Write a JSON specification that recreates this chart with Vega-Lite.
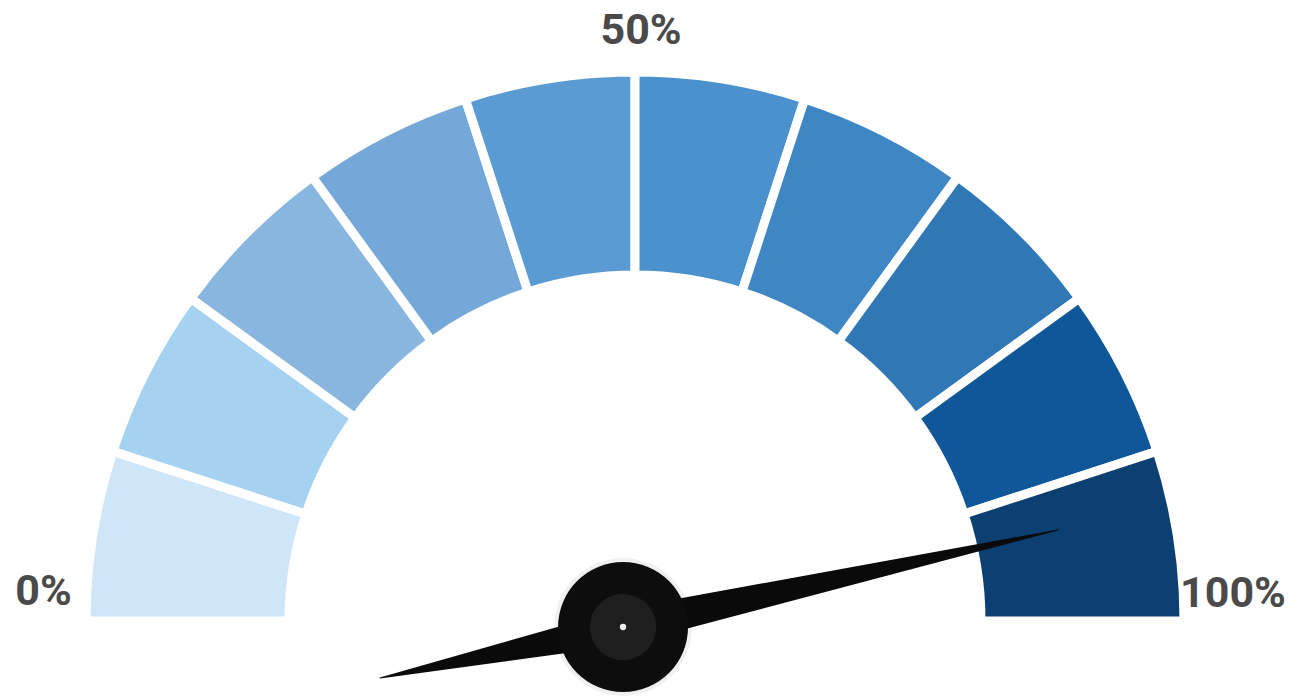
{
  "$schema": "https://vega.github.io/schema/vega-lite/v6.json",
  "width": 1308,
  "height": 696,
  "autosize": {"type": "none"},
  "padding": 0,
  "background": "white",
  "config": {"view": {"stroke": null}},
  "resolve": {"scale": {"color": "independent", "size": "independent"}},
  "layer": [
    {
      "data": {"values": [
        {"seg": 1, "t0": -1.5708, "t1": -1.2566},
        {"seg": 2, "t0": -1.2566, "t1": -0.9425},
        {"seg": 3, "t0": -0.9425, "t1": -0.6283},
        {"seg": 4, "t0": -0.6283, "t1": -0.3142},
        {"seg": 5, "t0": -0.3142, "t1": 0},
        {"seg": 6, "t0": 0, "t1": 0.3142},
        {"seg": 7, "t0": 0.3142, "t1": 0.6283},
        {"seg": 8, "t0": 0.6283, "t1": 0.9425},
        {"seg": 9, "t0": 0.9425, "t1": 1.2566},
        {"seg": 10, "t0": 1.2566, "t1": 1.5708}
      ]},
      "mark": {"type": "arc", "radius": 549, "radius2": 346, "stroke": "white", "strokeWidth": 9},
      "encoding": {
        "x": {"datum": 0, "type": "quantitative", "scale": {"domain": [-1.1609, 1.2303], "nice": false, "zero": false}, "axis": null},
        "y": {"datum": 0, "type": "quantitative", "scale": {"domain": [-0.1371, 1.1353], "nice": false, "zero": false}, "axis": null},
        "theta": {"field": "t0", "type": "quantitative", "scale": null},
        "theta2": {"field": "t1"},
        "color": {"field": "seg", "type": "ordinal", "legend": null,
          "scale": {"domain": [1,2,3,4,5,6,7,8,9,10], "range": ["#cfe6f8", "#a6d2f2", "#89b6de", "#74a8d8", "#5a9bd3", "#4a91cd", "#3e86c4", "#3077b5", "#0f5799", "#0c3f72"]}}
      }
    },
    {
      "data": {"values": [
        {"part": "shadow", "x": -0.0219, "y": -0.011}
      ]},
      "mark": {"type": "point", "filled": true, "shape": "circle", "size": 19000, "color": "#000000", "opacity": 0.06},
      "encoding": {
        "x": {"field": "x", "type": "quantitative"},
        "y": {"field": "y", "type": "quantitative"}
      }
    },
    {
      "data": {"values": [
        {"pt": 1, "part": "tail", "x": -0.4662, "y": -0.1042},
        {"pt": 2, "part": "hub", "x": -0.0219, "y": -0.011},
        {"pt": 3, "part": "tip", "x": 0.7733, "y": 0.1664}
      ]},
      "mark": {"type": "trail", "color": "#0a0a0a"},
      "encoding": {
        "x": {"field": "x", "type": "quantitative"},
        "y": {"field": "y", "type": "quantitative"},
        "order": {"field": "pt"},
        "size": {"field": "part", "type": "nominal", "legend": null, "scale": {"type": "ordinal", "domain": ["tail", "hub", "tip"], "range": [1, 36, 1]}}
      }
    },
    {
      "data": {"values": [
        {"part": "outer", "x": -0.0219, "y": -0.011}
      ]},
      "mark": {"type": "point", "filled": true, "shape": "circle", "opacity": 1, "size": 16900, "color": "#0d0d0d"},
      "encoding": {
        "x": {"field": "x", "type": "quantitative"},
        "y": {"field": "y", "type": "quantitative"}
      }
    },
    {
      "data": {"values": [
        {"part": "inner", "x": -0.0219, "y": -0.011}
      ]},
      "mark": {"type": "point", "filled": true, "shape": "circle", "opacity": 1, "size": 4400, "color": "#1e1e1e"},
      "encoding": {
        "x": {"field": "x", "type": "quantitative"},
        "y": {"field": "y", "type": "quantitative"}
      }
    },
    {
      "data": {"values": [
        {"part": "dot", "x": -0.0219, "y": -0.011}
      ]},
      "mark": {"type": "point", "filled": true, "shape": "circle", "opacity": 1, "size": 40, "color": "#f2f2f2"},
      "encoding": {
        "x": {"field": "x", "type": "quantitative"},
        "y": {"field": "y", "type": "quantitative"}
      }
    },
    {
      "data": {"values": [
        {"label": "0%", "x": -1.0814, "y": 0.053},
        {"label": "50%", "x": 0.011, "y": 1.0786},
        {"label": "100%", "x": 1.0932, "y": 0.0494}
      ]},
      "mark": {"type": "text", "font": "Roboto", "fontWeight": "bold", "fontSize": 43, "color": "#4a4a4a", "align": "center", "baseline": "middle"},
      "encoding": {
        "x": {"field": "x", "type": "quantitative"},
        "y": {"field": "y", "type": "quantitative"},
        "text": {"field": "label"}
      }
    }
  ]
}
